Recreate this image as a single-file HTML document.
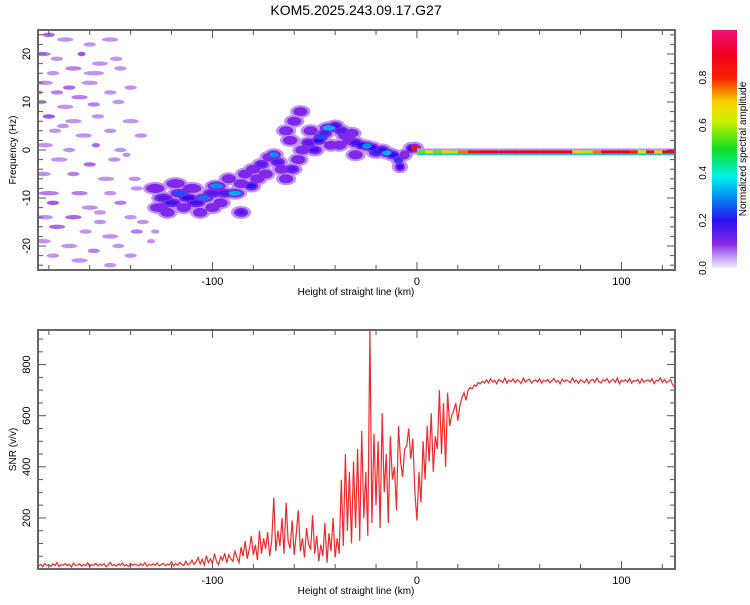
<!DOCTYPE html>
<html><head><meta charset="utf-8"><style>
body{margin:0;background:#fff;}
svg text{font-family:"Liberation Sans",sans-serif;fill:#000;}
</style></head><body>
<svg id="fig" width="750" height="600" xmlns="http://www.w3.org/2000/svg">
<defs>
<linearGradient id="cmap" x1="0" y1="1" x2="0" y2="0">
<stop offset="0" stop-color="#f4ecff"/><stop offset="0.04" stop-color="#c9a6f5"/><stop offset="0.1" stop-color="#8a2be8"/>
<stop offset="0.2" stop-color="#2a10f0"/><stop offset="0.3" stop-color="#0090f0"/><stop offset="0.38" stop-color="#00f0f0"/>
<stop offset="0.5" stop-color="#10e020"/><stop offset="0.62" stop-color="#d0f000"/><stop offset="0.7" stop-color="#f8d000"/>
<stop offset="0.8" stop-color="#f82000"/><stop offset="0.9" stop-color="#f00020"/><stop offset="1" stop-color="#f0107a"/>
</linearGradient>
<clipPath id="c1"><rect x="38" y="30" width="637" height="240"/></clipPath>
<clipPath id="c2"><rect x="38" y="330" width="637" height="239"/></clipPath>
</defs>
<text x="356" y="15" font-size="14" text-anchor="middle">KOM5.2025.243.09.17.G27</text>
<g id="topPanel"></g>
<g id="botPanel"></g>
<g>
<rect x="712" y="30" width="25" height="238" fill="url(#cmap)"/>
</g>
<text transform="translate(746,149) rotate(-90)" font-size="10" text-anchor="middle">Normalized spectral amplitude</text>
<g id="cbt"></g>
</svg>
<script>
// ---- data ----
const snrStart = -185, snrStep = 1;
const snrValues = [12,18,9,22,14,16,11,20,13,25,10,17,15,21,12,19,8,23,14,16,20,11,18,13,24,10,17,15,22,12,19,14,21,9,16,26,13,18,11,20,15,23,12,17,10,22,14,19,16,12,21,13,25,11,18,15,20,14,24,12,17,22,13,19,16,28,12,21,15,26,18,14,30,16,22,
35,18,28,45,20,38,15,52,25,40,22,60,30,18,48,35,62,25,55,40,
30,70,45,25,85,50,110,40,75,130,55,95,35,150,60,120,80,145,50,110,
280,70,150,90,200,60,260,110,80,190,55,140,230,70,120,45,160,100,75,210,
60,130,30,95,50,180,25,140,70,200,
45,120,60,350,90,450,150,380,100,420,
160,470,110,540,200,380,130,937,180,530,
250,500,160,610,300,450,180,520,350,400,230,560,420,360,470,480,550,430,510,300,
190,380,260,500,350,560,420,610,380,520,470,700,450,650,400,690,560,600,620,650,
580,640,670,690,660,700,710,705,720,715,730,725,735,728,
740,728,745,732,738,725,742,736,730,748,727,739,733,744,729,741,735,726,747,731,738,743,728,736,740,732,745,727,739,734,742,729,737,746,731,738,725,744,733,740,736,729,748,732,739,727,741,735,730,744,726,738,742,731,747,734,728,740,736,745,729,737,743,730,748,725,739,734,741,732,746,728,738,735,742,727,744,731,737,740,733,745,726,739,736,748,730,742,729,735,741,722,712];
// spectrogram blobs [height km, freq Hz, amplitude, half-width km]
const noiseBlobs = [[-180,24,0.07,3],[-172,23,0.05,4],[-160,22,0.05,3],[-150,23,0.05,4],[-183,20,0.06,4],[-176,19,0.05,3],[-164,20,0.08,2],[-155,18,0.05,4],[-147,19,0.05,3],
[-178,16,0.05,3],[-168,17,0.06,4],[-158,16,0.05,5],[-145,17,0.05,3],[-182,14,0.05,4],[-170,13,0.07,3],[-160,14,0.05,4],[-140,13,0.05,3],[-176,12,0.06,3],[-165,11,0.06,4],[-150,12,0.05,3],
[-184,10,0.05,3],[-172,9,0.05,4],[-158,9.5,0.06,3],[-146,10,0.05,3],[-180,7,0.08,3],[-168,6,0.05,4],[-156,7,0.05,3],[-140,6,0.05,4],[-177,4,0.05,3],[-163,3,0.05,4],[-150,4,0.05,3],[-135,3,0.05,3],
[-182,1,0.05,4],[-170,0,0.05,3],[-157,1,0.07,2],[-145,0,0.05,3],[-175,-2,0.05,4],[-160,-3,0.07,3],[-148,-2,0.05,3],[-183,-5,0.05,4],[-168,-5,0.06,3],[-152,-6,0.05,4],[-138,-6,0.05,3],
[-180,-9,0.06,5],[-165,-9,0.06,4],[-150,-9,0.05,3],[-137,-8,0.05,3],[-178,-11,0.08,3],[-160,-12,0.05,4],[-145,-11,0.06,3],[-182,-14,0.05,4],[-168,-14,0.07,4],[-155,-15,0.05,3],[-140,-14,0.05,3],
[-176,-16,0.07,4],[-162,-17,0.05,3],[-150,-18,0.05,4],[-137,-17,0.06,3],[-183,-19,0.05,4],[-170,-20,0.05,4],[-158,-21,0.06,3],[-146,-20,0.05,3],[-178,-22,0.05,3],[-165,-23,0.05,4],[-150,-24,0.05,3],[-140,-22,0.05,3],
[-155,-13,0.05,3],[-173,5,0.05,3],[-188,-2,0.05,3],[-186,12,0.05,3],[-142,-1,0.05,2],[-134,-15,0.05,3],[-130,-19,0.05,2],[-128,-17,0.05,2]];
const signalBlobs = [[-128,-8,0.12,4],[-124,-10,0.16,4],[-120,-11,0.18,4],[-126,-12,0.15,4],[-122,-13,0.14,3],[-116,-9,0.25,4],[-112,-10,0.2,4],[-108,-11,0.18,4],[-104,-10,0.28,4],[-100,-9,0.16,4],
[-118,-7,0.12,4],[-110,-8,0.14,4],[-100,-12,0.14,3],[-98,-7.5,0.3,4],[-94,-9,0.16,4],[-89,-9,0.32,4],[-92,-6,0.14,3],[-86,-7,0.15,3],[-86,-13,0.16,3],[-81,-7.5,0.2,3],
[-84,-5,0.13,3],[-80,-4,0.15,3],[-76,-3,0.16,3],[-72,-1.5,0.15,3],[-70,-1,0.3,3],[-74,-5,0.14,3],[-68,-2.5,0.16,3],[-66,-4,0.14,3],[-64,-6,0.12,3],[-61,-4,0.16,3],
[-64,4,0.15,3],[-60,6,0.13,3],[-57,8,0.14,3],[-62,2,0.12,3],[-56,0,0.14,3],[-53,1.5,0.16,3],[-50,0,0.18,3],[-48,2,0.2,3],[-47,2.7,0.25,3],[-45,3.5,0.16,3],
[-43,4.6,0.32,4],[-40,5,0.18,3],[-37,4,0.16,3],[-35,3,0.15,3],[-38,1,0.14,3],[-33,2,0.14,3],[-30,1.5,0.18,3],[-27,1,0.2,3],[-24.5,0.8,0.3,3],[-22,0.5,0.2,3],
[-20,-0.5,0.22,3],[-17,0,0.2,3],[-14.7,-0.6,0.32,3],[-12,-1,0.2,3],[-9,-2,0.24,2],[-8.3,-3.5,0.2,2],[-6,-1,0.15,2],[-3,0.3,0.2,2],[-1,0.4,0.85,2.5],[-30,-1,0.12,3],
[-106,-13,0.14,3],[-96,-11,0.13,3],[-114,-12,0.14,3],[-78,-6,0.12,3],[-58,-2,0.13,3],[-42,1,0.13,3],[-52,4,0.12,3],[-32,3.5,0.12,3]];
// carrier line near f = -0.5 Hz from 0 km: segment start heights and amplitudes
const lineH = [0,4,8,12,16,20,25,30,40,50,60,70,76,80,86,90,100,104,108,112,116,120];
const lineA = [0.55,0.65,0.55,0.7,0.6,0.75,0.85,0.9,0.92,0.9,0.88,0.9,0.7,0.6,0.75,0.9,0.9,0.8,0.62,0.85,0.7,0.9];
const lineF = -0.5;
const xTicks = [-100,0,100];
const topYTicks = [-20,-10,0,10,20];
const botYTicks = [200,400,600,800];
const cbTicks = [0.0,0.2,0.4,0.6,0.8];

// ---- scales ----
const X0=38,X1=675,HMIN=-185.3,HMAX=126.2;
const xs=h=>X0+(h-HMIN)/(HMAX-HMIN)*(X1-X0);
const ys1=f=>150-f*4.8;
const ys2=v=>569-v*0.2555;
const NS="http://www.w3.org/2000/svg";
function mk(tag,at,parent){const e=document.createElementNS(NS,tag);for(const k in at)e.setAttribute(k,at[k]);parent.appendChild(e);return e;}
const stops=[[0,[244,236,255]],[0.04,[201,166,245]],[0.1,[138,43,232]],[0.2,[42,16,240]],[0.3,[0,144,240]],[0.38,[0,240,240]],[0.5,[16,224,32]],[0.62,[208,240,0]],[0.7,[248,208,0]],[0.8,[248,32,0]],[0.9,[240,0,32]],[1,[240,16,122]]];
function cmap(a){for(let i=1;i<stops.length;i++){if(a<=stops[i][0]){const [a0,c0]=stops[i-1],[a1,c1]=stops[i];const t=(a-a0)/(a1-a0);return 'rgb('+c0.map((c,j)=>Math.round(c+(c1[j]-c)*t)).join(',')+')';}}return 'rgb(240,16,122)';}

function axes(g,yTicks,ys,yMinor,yr,pTop,pBot,ylab){
  for(let h=-180;h<=120;h+=20){const x=xs(h);const L=h%100===0?8:5;
    const t1=mk('line',{x1:x,x2:x,y1:pTop,y2:pTop+L,stroke:'#555','stroke-width':1},g);
    
    
    const t2=mk('line',{x1:x,x2:x,y1:pBot,y2:pBot-L,stroke:'#555','stroke-width':1},g);
    
    }
  xTicks.forEach(h=>{const t=mk('text',{x:xs(h),y:pBot+15,'font-size':11,'text-anchor':'middle'},g);t.textContent=String(h);
    
    });
  for(let v=yr[0];v<=yr[1];v+=yMinor){const y=ys(v);if(y<pTop||y>pBot)continue;const L=yTicks.includes(v)?8:5;
    const t=mk('line',{x1:X0,x2:X0+L,y1:y,y2:y,stroke:'#555'},g);
    
    
    const t2=mk('line',{x1:X1,x2:X1-L,y1:y,y2:y,stroke:'#555'},g);
    
    }
  yTicks.forEach(v=>{const t=mk('text',{transform:`translate(${X0-8},${ys(v)}) rotate(-90)`,'font-size':11,'text-anchor':'middle'},g);t.textContent=String(v);
    
    });
  const fr=mk('rect',{x:X0,y:pTop,width:X1-X0,height:pBot-pTop,fill:'none',stroke:'#666','stroke-width':2},g);
  
  
  const xl=mk('text',{x:356,y:pBot+25,'font-size':10,'text-anchor':'middle'},g);xl.textContent='Height of straight line (km)';
  
  
  const yl=mk('text',{transform:`translate(16,${(pTop+pBot)/2}) rotate(-90)`,'font-size':10,'text-anchor':'middle'},g);yl.textContent=ylab;
  
  
}

// ---- spectrogram ----
const topG=document.getElementById('topPanel');
const bl=mk('g',{'clip-path':'url(#c1)'},topG);
noiseBlobs.forEach(b=>{
  const e=mk('ellipse',{cx:xs(b[0]),cy:ys1(b[1]),rx:b[3]*2.045,ry:2.2,fill:cmap(b[2])},bl);
  
  });
signalBlobs.forEach(b=>{
  const h=mk('ellipse',{cx:xs(b[0]),cy:ys1(b[1]),rx:b[3]*2.045+4,ry:6.5,fill:cmap(0.05)},bl);
  
  });
signalBlobs.forEach(b=>{
  const e=mk('ellipse',{cx:xs(b[0]),cy:ys1(b[1]),rx:b[3]*2.045+1,ry:4.5,fill:cmap(0.11)},bl);
  
  });
signalBlobs.slice().sort((a,b)=>a[2]-b[2]).forEach(b=>{
  if(b[2]<=0.15)return;
  const e=mk('ellipse',{cx:xs(b[0]),cy:ys1(b[1]),rx:b[3]*1.6,ry:2.5,fill:cmap(b[2])},bl);
  
  });
lineH.forEach((h,i)=>{const h2=i+1<lineH.length?lineH[i+1]:HMAX+2;const y=ys1(lineF);
  const r0=mk('rect',{x:xs(h),y:y-4,width:xs(h2)-xs(h),height:7,fill:cmap(0.05)},bl);
  
  
  const r1=mk('rect',{x:xs(h),y:y-2,width:xs(h2)-xs(h),height:4.5,fill:cmap(0.35)},bl);
  
  
  const r=mk('rect',{x:xs(h),y:y-2,width:xs(h2)-xs(h),height:3,fill:cmap(lineA[i])},bl);
  
  });
axes(topG,topYTicks,ys1,2,[-24,24],30,270,'Frequency (Hz)');

// ---- SNR ----
const botG=document.getElementById('botPanel');
const pts=snrValues.map((v,i)=>xs(snrStart+i*snrStep).toFixed(1)+','+ys2(v).toFixed(1)).join(' ');
const pl=mk('polyline',{points:pts,fill:'none',stroke:'#ee2a2a','stroke-width':1.2,'clip-path':'url(#c2)'},botG);


axes(botG,botYTicks,ys2,50,[50,900],330,569,'SNR (v/v)');

// ---- colorbar ticks ----
const cbt=document.getElementById('cbt');
cbTicks.forEach(v=>{const y=268-v*238;const t=mk('text',{transform:`translate(706,${y}) rotate(-90)`,'font-size':10,'text-anchor':'middle'},cbt);t.textContent=v.toFixed(1);
  
  });
</script>
</body></html>
